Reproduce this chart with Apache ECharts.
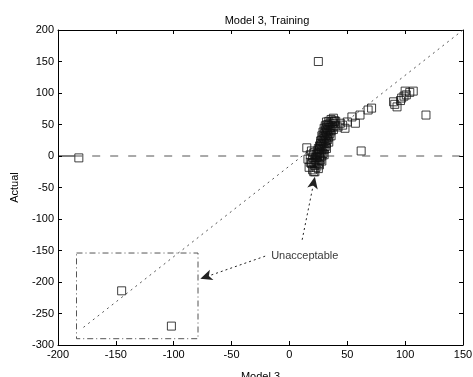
<!DOCTYPE html>
<html>
<head>
<meta charset="utf-8">
<script src="https://cdn.jsdelivr.net/npm/echarts@6/dist/echarts.min.js"></script>
<style>
  html, body { margin: 0; padding: 0; background: #fff; }
  #chart { width: 473px; height: 377px; }
</style>
</head>
<body>
<div id="chart"></div>
<script>
// axis ticks
const xTicks = [-200, -150, -100, -50, 0, 50, 100, 150]
const yTicks = [-300, -250, -200, -150, -100, -50, 0, 50, 100, 150, 200]

// model 3 prediction vs actual, the dense band near x = 15..40
const clusterPoints = [
  [15, 13], [16, -5], [17, -18], [18, -10], [19, -12], [20, -22], [21, -25], [22, -15],
  [22, -5], [23, -8], [23, 2], [24, -2], [24, 8], [25, 5], [25, 12], [26, 10],
  [26, -3], [27, 15], [27, 20], [28, 18], [28, 25], [29, 22], [29, 30], [30, 28],
  [30, 35], [31, 32], [31, 40], [32, 38], [32, 45], [33, 42], [33, 50], [34, 48],
  [34, 55], [35, 52], [36, 58], [37, 55], [38, 60], [27, 5], [28, 10], [29, 14],
  [30, 20], [31, 25], [32, 30], [33, 35], [34, 40], [35, 45], [36, 48], [24, -10],
  [26, 0], [20, -2], [21, 5], [19.5, -11], [22, -25],
  [23, -18], [25, -12], [27, -6], [28, 0], [29, 4], [30, 10], [31, 15], [32, 20],
  [33, 26], [34, 30], [35, 36], [36, 40], [37, 46], [38, 52], [39, 56],
  [21, -10], [23, -2], [24, 3], [26, 16], [27, 24], [28, 32], [29, 38], [30, 44],
  [31, 48], [32, 54], [25, -20], [26, -14], [28, -8], [30, 2], [32, 12], [34, 22],
  [36, 32], [38, 42], [40, 55], [18, 2], [19, 8]
]
// the rest of the training points
const upperPoints = [
  [40, 48], [42, 46], [44, 52], [46, 49], [48, 44], [50, 54], [54, 62], [57, 52],
  [61, 65], [68, 73], [71, 76],
  [90, 86], [91, 82], [93, 78], [96, 88], [97, 92], [99, 95], [101, 97], [100, 103],
  [104, 101], [107, 103], [118, 65], [62, 8], [25, 150], [-182, -3]
]
// squares shown inside the inset box
const insetPoints = [[-145, -214], [-102, -270]]

// reference lines
const diagonal = [[-178, -272], [150, 200]]
const zeroSolid = [[-200, 0], [-186, 0]]
const zeroDashed = [[-186, 0], [150, 0]]
const insetBox = [[-184, -154], [-79, -154], [-79, -290], [-184, -290], [-184, -154]]

// annotation
const noteText = 'Unacceptable'
const notePos = [-21, -159]
const arrowToBox = [[-21, -159], [-77, -195]]
const arrowToCluster = [[11, -133], [22, -33]]

const font = 'Liberation Sans, Arial, Helvetica, sans-serif'
const chart = echarts.init(document.getElementById('chart'))

const square = {
  type: 'scatter',
  symbol: 'rect',
  symbolSize: 8,
  itemStyle: { color: 'rgba(0,0,0,0)', borderColor: '#111', borderWidth: 1 },
  silent: true,
  z: 5,
}

const axisCommon = {
  type: 'value',
  axisLine: { show: true, onZero: false, lineStyle: { color: '#000', width: 1 } },
  axisTick: { show: true, inside: true, length: 4, lineStyle: { color: '#000' } },
  splitLine: { show: false },
}

chart.setOption({
  animation: false,
  backgroundColor: '#fff',
  textStyle: { fontFamily: font },
  title: {
    text: 'Model 3, Training',
    left: 262,
    textAlign: 'center',
    top: 10,
    textStyle: { fontSize: 11, fontWeight: 'normal', color: '#000', fontFamily: font },
  },
  grid: { left: 58, right: 10, top: 30, bottom: 32, show: false, outerBoundsMode: 'none', containLabel: false },
  xAxis: [
    {
      ...axisCommon,
      position: 'bottom',
      min: xTicks[0],
      max: xTicks[xTicks.length - 1],
      interval: 50,
      name: 'Model 3',
      nameLocation: 'middle',
      nameGap: 26,
      nameTextStyle: { fontSize: 11, color: '#000' },
      axisLabel: { fontSize: 11, color: '#000', margin: 4 },
    },
    {
      ...axisCommon,
      position: 'top',
      min: xTicks[0],
      max: xTicks[xTicks.length - 1],
      interval: 50,
      axisLabel: { show: false },
    },
  ],
  yAxis: [
    {
      ...axisCommon,
      position: 'left',
      min: yTicks[0],
      max: yTicks[yTicks.length - 1],
      interval: 50,
      name: 'Actual',
      nameLocation: 'middle',
      nameGap: 38,
      nameTextStyle: { fontSize: 11, color: '#000' },
      axisLabel: { fontSize: 11, color: '#000', margin: 4 },
    },
    {
      ...axisCommon,
      position: 'right',
      min: yTicks[0],
      max: yTicks[yTicks.length - 1],
      interval: 50,
      axisLabel: { show: false },
    },
  ],
  series: [
    {
      type: 'line',
      data: diagonal,
      symbol: 'none',
      silent: true,
      lineStyle: { color: '#555', width: 1, type: [2, 4] },
    },
    {
      type: 'line',
      data: zeroSolid,
      symbol: 'none',
      silent: true,
      lineStyle: { color: '#000', width: 1 },
    },
    {
      type: 'line',
      data: zeroDashed,
      symbol: 'none',
      silent: true,
      lineStyle: { color: '#555', width: 1, type: [8, 10] },
    },
    {
      type: 'line',
      data: insetBox,
      symbol: 'none',
      silent: true,
      lineStyle: { color: '#555', width: 1, type: [6, 3, 1, 3] },
    },
    { ...square, data: clusterPoints },
    { ...square, data: upperPoints },
    { ...square, data: insetPoints },
    {
      type: 'scatter',
      data: [notePos],
      symbolSize: 0,
      silent: true,
      label: {
        show: true,
        position: 'right',
        distance: 6,
        formatter: noteText,
        fontSize: 11,
        color: '#000',
      },
      markLine: {
        silent: true,
        symbol: ['none', 'arrow'],
        symbolSize: [8, 12],
        label: { show: false },
        lineStyle: { color: '#222', width: 1, type: [2, 3] },
        data: [
          [{ coord: arrowToBox[0] }, { coord: arrowToBox[1] }],
          [{ coord: arrowToCluster[0] }, { coord: arrowToCluster[1] }],
        ],
      },
    },
  ],
})
</script>
</body>
</html>
